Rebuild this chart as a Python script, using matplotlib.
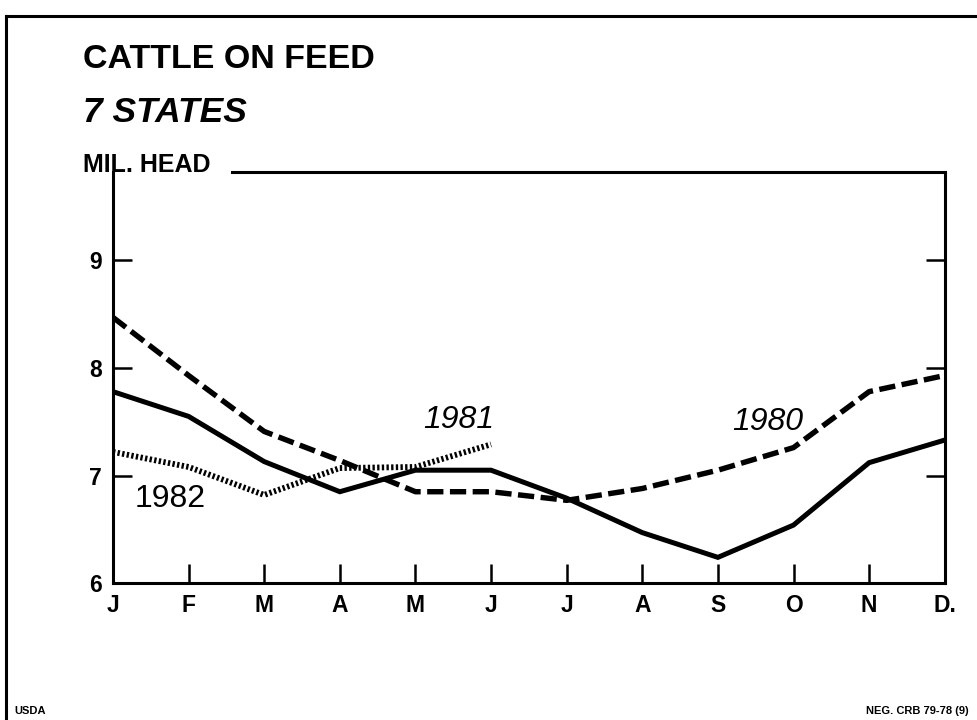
import matplotlib.pyplot as plt
from matplotlib.lines import Line2D

plt.rcParams['font.family'] = ['Liberation Sans', 'DejaVu Sans']

months = ['J', 'F', 'M', 'A', 'M', 'J', 'J', 'A', 'S', 'O', 'N', 'D.']
y1980 = [8.47, 7.93, 7.41, 7.14, 6.85, 6.85, 6.77, 6.88, 7.05, 7.26, 7.78, 7.93]
y1981 = [7.78, 7.55, 7.13, 6.85, 7.05, 7.05, 6.79, 6.47, 6.24, 6.54, 7.12, 7.33]
y1982 = [7.22, 7.08, 6.82, 7.07, 7.08, 7.29]
yticks = [6, 7, 8, 9]

x = list(range(len(months)))

fig = plt.figure(figsize=(9.78, 7.2), dpi=100)
ax = fig.add_axes([0.1155, 0.19, 0.8505, 0.571])

ax.plot(x, y1981, color='black', lw=3.6, solid_joinstyle='miter')
ax.plot(x, y1980, color='black', lw=3.9, linestyle=(0, (3.0, 1.2)))
ax.plot(x[:len(y1982)], y1982, color='black', lw=4.2, linestyle=(0, (0.4, 0.4)))

ax.set_xlim(0, 11)
ax.set_ylim(6, 9.82)
ax.set_xticks(x)
ax.set_xticklabels(months)
ax.set_yticks(yticks)
ax.set_yticklabels([str(v) for v in yticks])
ax.tick_params(axis='x', direction='in', length=14, width=1.8, pad=8,
               labelsize=16.5)
ax.tick_params(axis='y', direction='in', length=14, width=1.8, pad=8,
               labelsize=16.5, right=True)
for lab in ax.get_xticklabels() + ax.get_yticklabels():
    lab.set_fontweight('bold')

for s in ['left', 'right', 'bottom', 'top']:
    ax.spines[s].set_linewidth(2.2)
ax.spines['top'].set_bounds(1.58, 11)

ax.text(4.1, 7.44, '1981', fontsize=23, style='italic', va='baseline')
ax.text(8.19, 7.42, '1980', fontsize=23, style='italic', va='baseline')
ax.text(0.29, 6.71, '1982', fontsize=23, va='baseline')

fig.text(0.085, 0.906, 'CATTLE ON FEED', fontsize=24.5, fontweight='bold',
         va='baseline')
fig.text(0.085, 0.831, '7 STATES', fontsize=25.5, fontweight='bold',
         style='italic', va='baseline')
fig.text(0.085, 0.761, 'MIL. HEAD', fontsize=18, fontweight='bold',
         va='baseline')
fig.text(0.015, 0.008, 'USDA', fontsize=8, fontweight='bold')
fig.text(0.99, 0.008, 'NEG. CRB 79-78 (9)', fontsize=8,
         fontweight='bold', ha='right')

# outer frame of the page
fig.add_artist(Line2D([0.006, 0.006], [0.0, 0.978], color='black', lw=2.2,
                      transform=fig.transFigure))
fig.add_artist(Line2D([0.006, 1.0], [0.978, 0.978], color='black', lw=2.2,
                      transform=fig.transFigure))

fig.savefig('out.png', dpi=100)
